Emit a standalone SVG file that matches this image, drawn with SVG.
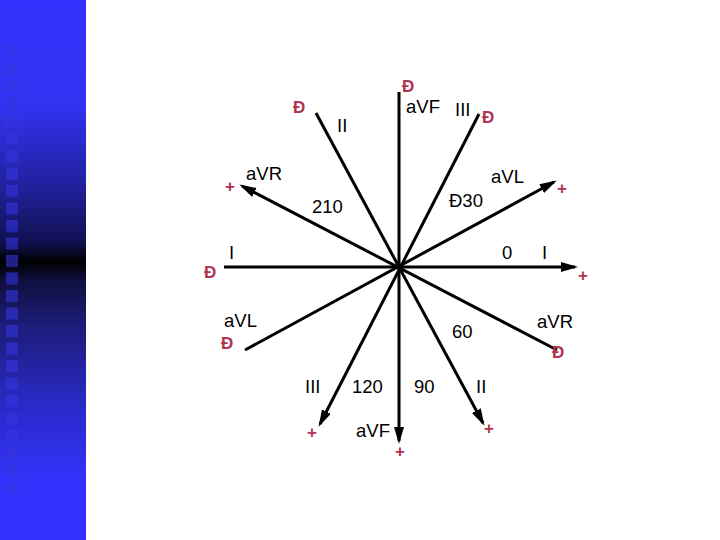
<svg xmlns="http://www.w3.org/2000/svg" width="720" height="540" viewBox="0 0 720 540">
<defs>
<linearGradient id="bar" x1="0" y1="0" x2="0" y2="1">
<stop offset="0" stop-color="#3333ff"/>
<stop offset="0.2" stop-color="#3232f0"/>
<stop offset="0.35" stop-color="#20209a"/>
<stop offset="0.45" stop-color="#101050"/>
<stop offset="0.485" stop-color="#000000"/>
<stop offset="0.52" stop-color="#101040"/>
<stop offset="0.6" stop-color="#1c1c78"/>
<stop offset="0.75" stop-color="#2a2ac8"/>
<stop offset="0.9" stop-color="#3333ff"/>
<stop offset="1" stop-color="#3333ff"/>
</linearGradient>
<marker id="arr" markerUnits="userSpaceOnUse" markerWidth="18" markerHeight="12" refX="14" refY="5" orient="auto">
<path d="M0,0 L17,5 L0,10 z" fill="#000"/>
</marker>
<pattern id="sq" x="6" y="45" width="20" height="17.5" patternUnits="userSpaceOnUse">
<rect x="0" y="0" width="12" height="12" fill="#3333e0" opacity="0.6"/>
</pattern>
</defs>
<style>
.ax{stroke:#000;stroke-width:3;fill:none}
.t{font-family:"Liberation Sans",Arial,sans-serif;font-size:18.5px;fill:#000}
.r{font-family:"Liberation Sans",Arial,sans-serif;font-size:17px;font-weight:bold;fill:#b0334f}
.p{font-family:"Liberation Sans",Arial,sans-serif;font-size:17px;font-weight:bold;fill:#b0334f;text-anchor:middle}
</style>
<rect x="0" y="0" width="720" height="540" fill="#fff"/>
<g id="sidebar">
<rect x="0" y="0" width="86" height="540" fill="url(#bar)"/>
<rect x="6" y="45" width="12" height="450" fill="url(#sq)"/>
</g>
<g id="connectors">
<line class="ax" x1="224" y1="267" x2="575" y2="267" marker-end="url(#arr)"/>
<line class="ax" x1="399" y1="92" x2="399" y2="441" marker-end="url(#arr)"/>
<line class="ax" x1="316" y1="113" x2="483" y2="423" marker-end="url(#arr)"/>
<line class="ax" x1="479" y1="114" x2="320" y2="424" marker-end="url(#arr)"/>
<line class="ax" x1="557" y1="350" x2="242" y2="186" marker-end="url(#arr)"/>
<line class="ax" x1="245" y1="350" x2="554" y2="182" marker-end="url(#arr)"/>
</g>
<g id="lead-I">
<text class="t" x="229" y="259">I</text>
<text class="r" x="204" y="278">Đ</text>
<text class="t" x="502" y="259">0</text>
<text class="t" x="542" y="259">I</text>
<text class="p" x="583" y="281">+</text>
</g>
<g id="lead-aVF">
<text class="r" x="402" y="92">Đ</text>
<text class="t" x="406" y="113">aVF</text>
<text class="t" x="414" y="393">90</text>
<text class="t" x="356" y="437">aVF</text>
<text class="p" x="400" y="457">+</text>
</g>
<g id="lead-II">
<text class="r" x="293" y="113">Đ</text>
<text class="t" x="337" y="132">II</text>
<text class="t" x="476" y="393">II</text>
<text class="p" x="489" y="434">+</text>
</g>
<g id="lead-III">
<text class="t" x="455" y="116">III</text>
<text class="r" x="482" y="123">Đ</text>
<text class="t" x="305" y="393">III</text>
<text class="t" x="352" y="393">120</text>
<text class="p" x="312" y="438">+</text>
</g>
<g id="lead-aVR">
<text class="t" x="246" y="180">aVR</text>
<text class="p" x="230" y="192">+</text>
<text class="t" x="312" y="213">210</text>
<text class="t" x="537" y="328">aVR</text>
<text class="r" x="552" y="358">Đ</text>
</g>
<g id="lead-aVL">
<text class="t" x="491" y="183">aVL</text>
<text class="p" x="562" y="194">+</text>
<text class="t" x="449" y="207">Đ30</text>
<text class="t" x="224" y="327">aVL</text>
<text class="r" x="221" y="349">Đ</text>
<text class="t" x="452" y="338">60</text>
</g>
</svg>
